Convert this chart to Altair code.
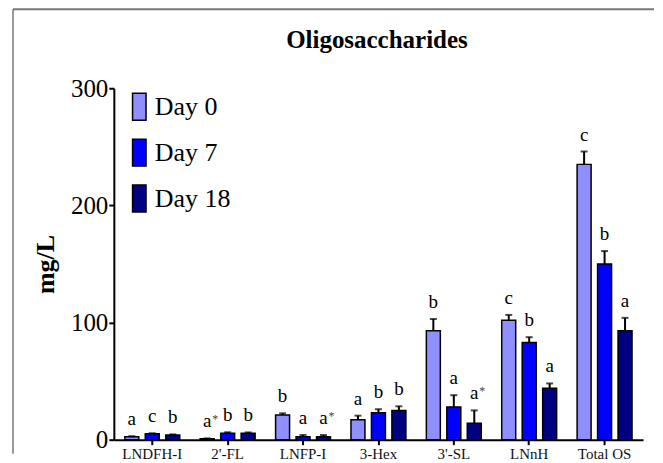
import altair as alt
import pandas as pd

categories = ["LNDFH-I", "2'-FL", "LNFP-I", "3-Hex", "3'-SL", "LNnH", "Total OS"]
days = ["Day 0", "Day 7", "Day 18"]
colors = ["#8F8FFF", "#0000FF", "#000080"]
chart_title = ["Oligosaccharides"]

day0 = [2.5, 0.8, 21, 17, 93, 102, 235]
day0_err = [0.5, 0.3, 1.5, 3.5, 10, 4.5, 11]
day7 = [5, 5.5, 2.5, 23, 28, 83, 150]
day7_err = [0.5, 0.8, 1.5, 3, 10, 4.5, 11]
day18 = [4, 5.5, 2.5, 25, 14, 44, 93]
day18_err = [0.5, 0.7, 1.5, 3.5, 11, 4, 11]

letters0 = ["a", "a", "b", "a", "b", "c", "c"]
letters7 = ["c", "b", "a", "b", "a", "b", "b"]
letters18 = ["b", "b", "a", "b", "a", "a", "a"]
stars0 = ["", "*", "", "", "", "", ""]
stars7 = ["", "", "", "", "", "", ""]
stars18 = ["", "", "*", "", "*", "", ""]

rows = []
for d, vals, errs, lets, sts in [
    ("Day 0", day0, day0_err, letters0, stars0),
    ("Day 7", day7, day7_err, letters7, stars7),
    ("Day 18", day18, day18_err, letters18, stars18),
]:
    for c, v, e, l, s in zip(categories, vals, errs, lets, sts):
        rows.append({"cat": c, "day": d, "value": v, "top": v + e, "letter": l, "star": s})
df = pd.DataFrame(rows)

W, H = 530, 352
FONT = "Liberation Serif"

base = alt.Chart(df).encode(
    x=alt.X("cat:N", sort=categories,
            scale=alt.Scale(paddingInner=0, paddingOuter=0.01),
            axis=alt.Axis(title=None, labelAngle=0, labelFont=FONT, labelFontSize=15,
                          labelColor="#111", domainColor="black", domainWidth=2,
                          tickColor="black", tickWidth=2, tickSize=5, labelPadding=2)),
    xOffset=alt.XOffset("day:N", sort=days,
                        scale=alt.Scale(paddingInner=0.317, paddingOuter=0.5)),
)

yscale = alt.Scale(domain=[0, 300], nice=False)

bars = base.mark_bar(stroke="black", strokeWidth=1.5, opacity=1).encode(
    y=alt.Y("value:Q", scale=yscale,
            axis=alt.Axis(values=[0, 100, 200, 300], title="mg/L", grid=False,
                          labelFont=FONT, labelFontSize=25, labelColor="black",
                          domainColor="black", domainWidth=2, tickColor="black",
                          tickWidth=2, tickSize=5, labelPadding=1,
                          titleFont=FONT, titleFontSize=26, titleFontWeight="bold",
                          titleColor="black", titlePadding=12)),
    color=alt.Color("day:N", sort=days, scale=alt.Scale(domain=days, range=colors),
                    legend=alt.Legend(title=None, orient="none", legendX=11, legendY=4,
                                      symbolType="M-0.5,-1L0.5,-1L0.5,1L-0.5,1Z",
                                      symbolSize=729, symbolStrokeColor="black",
                                      symbolStrokeWidth=1.5, symbolOpacity=1,
                                      labelFont=FONT, labelFontSize=26, labelColor="black",
                                      labelOffset=1, rowPadding=13, padding=0)),
)

err = base.mark_rule(color="black", strokeWidth=2).encode(y="value:Q", y2="top:Q")
cap = base.mark_tick(color="black", orient="horizontal", size=7, thickness=2).encode(y="top:Q")

letters = base.mark_text(font=FONT, fontSize=19, baseline="alphabetic", dy=-11,
                         color="black").encode(y="top:Q", text="letter:N")
stars = base.mark_text(font=FONT, fontSize=12, baseline="alphabetic", dx=8, dy=-15,
                       color="#444").encode(y="top:Q", text="star:N")

one = pd.DataFrame({"k": [0]})
left_border = alt.Chart(one).mark_rule(color="#999", strokeWidth=2).encode(
    x=alt.value(-101), y=alt.value(-79), y2=alt.value(H + 14))
top_border = alt.Chart(one).mark_rule(color="#777", strokeWidth=2).encode(
    x=alt.value(-101), x2=alt.value(541), y=alt.value(-79))

title_df = pd.DataFrame({"t": chart_title})
title = alt.Chart(title_df).mark_text(font=FONT, fontSize=25, fontWeight="bold",
                                      color="black", baseline="alphabetic",
                                      align="center").encode(
    x=alt.value(W / 2 - 1.5), y=alt.value(-40), text="t:N")

chart = alt.layer(left_border, top_border, bars, err, cap, letters, stars, title).properties(
    width=W, height=H,
    padding={"left": 4, "top": 0, "right": 0, "bottom": 0},
).configure_view(stroke=None)

chart.save("out.html", embed_options={"renderer": "svg", "actions": False})
